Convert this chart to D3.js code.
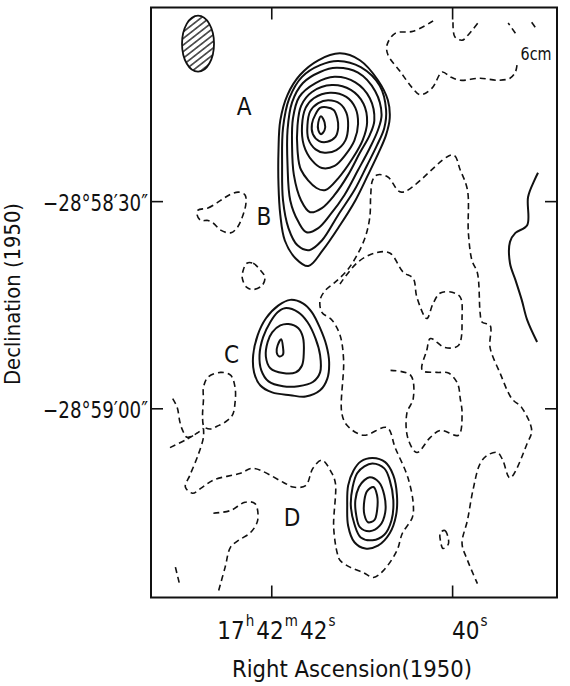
<!DOCTYPE html>
<html>
<head>
<meta charset="utf-8">
<script src="https://cdn.jsdelivr.net/npm/d3@7"></script>
<style>
  body { margin: 0; background: #fff; }
  svg { display: block; font-family: "DejaVu Sans Condensed", "DejaVu Sans", sans-serif; }
</style>
</head>
<body>
<div class="content"></div>
<script>
// Coordinates: RA in seconds of time after 17h42m, Dec in arcsec south of -28°58'00" (1950)

// Axis ticks
var raTicks = [42, 40];
var raTickLabels = [[["17", "h"], ["42", "m"], ["42", "s"]], [["40", "s"]]];
var decTicks = [30, 60];
var decTickLabels = ["−28°58′30″", "−28°59′00″"];

// Source labels [name, ra, dec]
var sourceLabels = [["A", 42.30, 17.5], ["B", 42.08, 33.5], ["C", 42.44, 53.5], ["D", 41.77, 77.0]];

// Beam [ra, dec, half-width (s), half-height (arcsec)]
var beam = [42.81, 7.2, 0.177, 4.06];

// Source A, outer to inner contour
var contoursA = [
  [[41.24,8.6],[41.02,9.6],[40.82,12.5],[40.71,15.4],[40.69,18.0],[40.73,20.4],[40.81,22.9],[40.93,26.2],[41.07,29.9],[41.24,33.5],[41.43,37.1],[41.59,39.4],[41.73,38.3],[41.85,35.7],[41.90,32.0],[41.92,27.7],[41.92,22.6],[41.90,18.3],[41.82,14.6],[41.68,11.7],[41.48,9.6]],
  [[41.26,9.7],[41.01,10.6],[40.80,13.3],[40.73,16.8],[40.75,19.4],[40.83,21.9],[40.94,24.8],[41.08,28.4],[41.26,32.0],[41.44,35.7],[41.58,37.1],[41.71,36.4],[41.81,33.9],[41.87,29.9],[41.88,24.8],[41.87,19.4],[41.80,15.1],[41.66,12.0],[41.46,10.3]],
  [[41.28,10.7],[41.04,11.4],[40.85,14.1],[40.78,17.5],[40.82,19.7],[40.91,22.3],[41.04,25.5],[41.19,29.1],[41.35,32.0],[41.48,33.9],[41.61,34.5],[41.70,33.0],[41.79,29.9],[41.82,24.8],[41.82,19.7],[41.77,15.7],[41.65,12.9],[41.46,11.3]],
  [[41.30,12.0],[41.07,12.8],[40.91,15.1],[40.86,18.3],[40.91,20.4],[41.02,23.0],[41.15,26.2],[41.30,29.1],[41.44,31.0],[41.57,31.6],[41.67,29.9],[41.75,26.2],[41.77,21.9],[41.76,18.0],[41.69,14.9],[41.51,12.9]],
  [[41.33,13.2],[41.12,13.9],[40.98,15.9],[40.94,18.6],[40.99,21.2],[41.10,23.8],[41.26,26.7],[41.40,28.4],[41.50,28.1],[41.67,25.5],[41.71,22.6],[41.71,19.1],[41.67,16.2],[41.55,14.2]],
  [[41.35,14.3],[41.17,14.9],[41.07,16.5],[41.04,18.8],[41.08,21.2],[41.18,23.3],[41.30,24.9],[41.44,25.2],[41.55,24.1],[41.64,21.9],[41.66,19.1],[41.62,16.5],[41.53,15.1]],
  [[41.37,15.4],[41.24,15.9],[41.17,17.2],[41.15,19.1],[41.18,21.2],[41.28,22.6],[41.41,23.0],[41.51,22.5],[41.59,21.0],[41.60,19.0],[41.57,17.0],[41.48,15.8]],
  [[41.39,16.4],[41.31,16.8],[41.27,18.0],[41.26,19.4],[41.29,20.7],[41.38,21.4],[41.47,21.3],[41.54,20.3],[41.55,18.8],[41.51,17.4],[41.46,16.5]],
  [[41.45,17.7],[41.41,18.6],[41.41,19.7],[41.45,20.3],[41.48,19.7],[41.48,18.6]]
];

// Source C
var contoursC = [
  [[41.79,44.3],[41.65,44.8],[41.55,46.1],[41.46,48.4],[41.39,50.9],[41.36,53.3],[41.38,55.7],[41.46,57.4],[41.62,58.3],[41.79,58.1],[41.99,57.7],[42.12,56.7],[42.19,54.8],[42.20,52.3],[42.15,49.4],[42.06,47.0],[41.92,45.1]],
  [[41.85,45.5],[41.70,46.1],[41.60,47.5],[41.51,49.9],[41.46,52.3],[41.46,54.8],[41.54,56.2],[41.70,56.8],[41.87,56.8],[42.03,56.1],[42.11,54.5],[42.13,52.3],[42.09,49.7],[42.01,47.5],[41.93,46.1]],
  [[41.81,47.8],[41.70,48.4],[41.65,49.7],[41.64,51.9],[41.66,53.8],[41.73,54.8],[41.87,54.9],[42.01,54.2],[42.06,52.5],[42.04,50.4],[41.99,49.0],[41.90,48.0]],
  [[41.89,50.0],[41.87,51.2],[41.87,52.2],[41.91,52.5],[41.94,51.9],[41.93,50.9]]
];

// Source D
var contoursD = [
  [[40.88,67.2],[40.74,67.8],[40.65,69.7],[40.61,72.6],[40.62,75.5],[40.69,78.1],[40.82,79.9],[40.96,80.3],[41.08,79.4],[41.15,77.0],[41.16,74.1],[41.15,71.2],[41.09,69.0],[41.01,67.7]],
  [[40.88,68.0],[40.75,68.7],[40.69,70.4],[40.65,73.3],[40.67,76.2],[40.75,78.3],[40.88,79.1],[41.01,78.7],[41.08,76.8],[41.12,74.1],[41.10,71.4],[41.05,69.4],[40.97,68.4]],
  [[40.91,70.0],[40.81,70.7],[40.75,72.6],[40.74,75.1],[40.80,77.0],[40.91,77.8],[41.02,77.2],[41.06,75.5],[41.07,73.3],[41.03,71.4],[40.97,70.4]],
  [[40.87,71.4],[40.83,72.6],[40.83,74.8],[40.86,76.2],[40.93,76.5],[40.97,75.4],[40.97,73.3],[40.94,72.0]]
];

// Solid open contour at the east edge
var eastEdge = [[39.05,25.9],[39.09,27.0],[39.16,29.4],[39.17,33.5],[39.30,34.6],[39.36,35.9],[39.36,39.0],[39.30,41.4],[39.23,44.3],[39.17,47.2],[39.06,50.4]];

// Dashed (lowest level) closed contours
var dashedLoops = [
  [[42.81,31.3],[42.70,31.0],[42.56,29.9],[42.45,29.0],[42.36,28.7],[42.29,29.1],[42.28,30.3],[42.32,32.3],[42.38,33.9],[42.45,34.6],[42.56,34.2],[42.64,33.2],[42.70,32.8],[42.78,32.8],[42.82,32.0]],
  [[42.27,39.0],[42.20,39.0],[42.12,40.0],[42.07,41.0],[42.10,42.2],[42.20,42.8],[42.27,42.5],[42.32,41.2],[42.31,40.0]],
  [[42.75,62.5],[42.76,61.0],[42.75,58.8],[42.75,57.0],[42.70,55.5],[42.56,54.8],[42.45,55.2],[42.40,57.0],[42.40,59.1],[42.43,61.0],[42.51,62.0],[42.60,62.6],[42.67,63.0],[42.73,62.8]],
  [[40.13,78.0],[40.08,77.7],[40.04,79.6],[40.10,80.3],[40.13,79.1]]
];

// Dashed open contours
var dashedLines = [
  [[40.21,3.9],[40.43,5.4],[40.63,5.7],[40.72,7.4],[40.71,8.8],[40.57,11.3],[40.44,13.6],[40.35,14.6],[40.22,13.6],[40.11,11.3],[40.02,12.0],[39.91,12.5],[39.69,12.2],[39.49,12.5],[39.36,12.2],[39.30,11.3],[39.28,10.0]],
  [[39.30,5.7],[39.38,4.2]],
  [[39.99,4.1],[39.97,6.2],[39.89,6.7],[39.82,5.9],[39.71,4.1]],
  [[39.12,4.1],[39.06,5.2]],
  [[42.75,62.9],[42.75,64.2],[42.81,66.8],[42.90,69.7],[42.95,71.4],[42.87,72.3],[42.78,71.6],[42.64,70.4],[42.34,69.4],[42.20,68.7],[41.87,70.7],[41.76,71.4],[41.62,71.2],[41.54,68.7],[41.44,67.5],[41.33,69.4],[41.29,70.9],[41.31,77.2],[41.27,81.0],[41.24,82.0],[41.13,83.0],[40.98,83.8],[40.87,84.5],[40.76,83.5],[40.61,80.6],[40.55,78.1],[40.44,75.8],[40.43,73.8],[40.49,70.0],[40.63,65.7],[40.72,62.8],[40.98,63.9],[41.16,62.5],[41.22,60.7],[41.20,53.0],[41.24,49.4],[41.33,47.2],[41.44,46.1],[41.46,44.3],[41.40,42.9],[41.29,41.7],[41.16,40.0],[41.05,37.8],[40.96,35.2],[40.91,32.3],[40.90,29.1],[40.88,27.0],[40.83,26.2],[40.71,26.5],[40.56,28.7],[39.99,23.3],[39.91,25.5],[39.83,28.4],[39.82,34.6],[39.78,38.6],[39.72,40.4],[39.69,46.2],[39.67,47.5],[39.58,48.0],[39.58,51.2],[39.47,54.9],[39.34,58.6],[39.23,59.9],[39.12,63.2],[39.17,65.1],[39.36,70.1],[39.44,67.5],[39.50,66.4],[39.61,66.8],[39.69,68.0],[39.77,71.9],[39.83,76.2],[39.89,79.6],[39.83,82.0],[39.72,85.4]],
  [[41.24,42.0],[41.04,38.8],[40.85,37.5],[40.69,37.5],[40.54,40.3],[40.43,41.2],[40.39,43.9],[40.28,47.0],[40.21,44.8],[40.13,43.3],[40.00,43.2],[39.91,43.9],[39.89,46.8],[39.93,50.9],[40.08,51.2],[40.24,49.9],[40.28,51.6],[40.33,54.5],[40.17,54.8],[40.04,54.9],[39.94,56.4],[39.91,58.6],[39.89,60.7],[39.93,63.9],[40.13,63.2],[40.24,64.2],[40.39,66.4],[40.49,64.3],[40.50,60.7],[40.43,58.6],[40.46,55.2],[40.69,54.5]],
  [[43.09,58.6],[43.04,59.9],[43.01,62.0],[42.98,63.2],[42.93,64.2],[42.82,63.6],[42.75,62.9]],
  [[43.12,65.7],[42.95,64.6],[42.82,63.6]],
  [[42.64,75.2],[42.45,74.8],[42.29,73.6],[42.18,73.8],[42.15,76.2],[42.23,78.0],[42.36,79.1],[42.45,80.1],[42.51,83.0],[42.59,86.8]],
  [[43.06,83.0],[43.01,85.7]]
];

(function() {

  var margin = {top: 7.5, right: 13, bottom: 88.5, left: 151};
  var width = 570 - margin.left - margin.right;
  var height = 686 - margin.top - margin.bottom;

  var x = d3.scaleLinear().domain([43.33, 38.84]).range([0, width]);
  var y = d3.scaleLinear().domain([1.96, 87.4]).range([0, height]);

  var svg = d3.select(".content").append("svg")
      .attr("width", 570)
      .attr("height", 686);

  var defs = svg.append("defs");
  var hatch = defs.append("pattern")
      .attr("id", "hatch")
      .attr("patternUnits", "userSpaceOnUse")
      .attr("width", 10)
      .attr("height", 5.2)
      .attr("patternTransform", "rotate(-38)");
  hatch.append("line")
      .attr("x1", 0).attr("x2", 10)
      .attr("y1", 2.6).attr("y2", 2.6)
      .attr("stroke", "#111")
      .attr("stroke-width", 1.3);

  var chart = svg.append("g")
      .attr("transform", "translate(" + margin.left + "," + margin.top + ")");

  var closedLine = d3.line()
      .x(function(d) { return x(d[0]); })
      .y(function(d) { return y(d[1]); })
      .curve(d3.curveCatmullRomClosed.alpha(0.5));

  var openLine = d3.line()
      .x(function(d) { return x(d[0]); })
      .y(function(d) { return y(d[1]); })
      .curve(d3.curveCatmullRom.alpha(0.5));

  // Solid contours
  var solid = contoursA.concat(contoursC, contoursD);
  chart.selectAll(".solid")
      .data(solid)
      .enter()
      .append("path")
      .attr("class", "solid")
      .attr("d", closedLine)
      .attr("fill", "none")
      .attr("stroke", "#111")
      .attr("stroke-width", 2);

  chart.append("path")
      .attr("d", openLine(eastEdge))
      .attr("fill", "none")
      .attr("stroke", "#111")
      .attr("stroke-width", 2);

  // Dashed contours
  chart.selectAll(".loop")
      .data(dashedLoops)
      .enter()
      .append("path")
      .attr("class", "loop")
      .attr("d", closedLine)
      .attr("fill", "none")
      .attr("stroke", "#111")
      .attr("stroke-width", 1.6)
      .attr("stroke-dasharray", "6,4");

  chart.selectAll(".dline")
      .data(dashedLines)
      .enter()
      .append("path")
      .attr("class", "dline")
      .attr("d", openLine)
      .attr("fill", "none")
      .attr("stroke", "#111")
      .attr("stroke-width", 1.6)
      .attr("stroke-dasharray", "6,4");

  // Beam
  chart.append("ellipse")
      .attr("cx", x(beam[0]))
      .attr("cy", y(beam[1]))
      .attr("rx", x(beam[0] - beam[2]) - x(beam[0]))
      .attr("ry", y(beam[1] + beam[3]) - y(beam[1]))
      .attr("fill", "url(#hatch)")
      .attr("stroke", "#111")
      .attr("stroke-width", 1.8);

  // Source labels
  chart.selectAll(".src")
      .data(sourceLabels)
      .enter()
      .append("text")
      .attr("class", "src")
      .attr("x", function(d) { return x(d[1]); })
      .attr("y", function(d) { return y(d[2]); })
      .attr("text-anchor", "middle")
      .attr("font-size", 24)
      .attr("fill", "#111")
      .text(function(d) { return d[0]; });

  chart.append("text")
      .attr("x", width - 21)
      .attr("y", 52)
      .attr("text-anchor", "middle")
      .attr("font-size", 18)
      .attr("textLength", 31)
      .attr("lengthAdjust", "spacingAndGlyphs")
      .attr("fill", "#111")
      .text("6cm");

  // Ticks on all four sides, pointing inward
  var tickStyle = function(g) {
    g.select(".domain").remove();
    g.selectAll(".tick line").attr("stroke", "#111").attr("stroke-width", 1.6);
    g.selectAll(".tick text").remove();
  };
  chart.append("g").call(d3.axisTop(x).tickValues(raTicks).tickSize(-12)).call(tickStyle);
  chart.append("g").attr("transform", "translate(0," + height + ")")
      .call(d3.axisBottom(x).tickValues(raTicks).tickSize(-12)).call(tickStyle);
  chart.append("g").call(d3.axisLeft(y).tickValues(decTicks).tickSize(-12)).call(tickStyle);
  chart.append("g").attr("transform", "translate(" + width + ",0)")
      .call(d3.axisRight(y).tickValues(decTicks).tickSize(-12)).call(tickStyle);

  // Frame
  chart.append("rect")
      .attr("width", width)
      .attr("height", height)
      .attr("fill", "none")
      .attr("stroke", "#111")
      .attr("stroke-width", 2);

  // RA tick labels with superscript units
  var raOffsets = [-54, 0];
  raTickLabels.forEach(function(parts, i) {
    var t = chart.append("text")
        .attr("x", x(raTicks[i]) + raOffsets[i])
        .attr("y", height + 41)
        .attr("fill", "#111");
    parts.forEach(function(p, j) {
      t.append("tspan").attr("font-size", 24).attr("dx", j === 0 ? 0 : 2)
          .attr("dy", j === 0 ? 0 : 13).text(p[0]);
      t.append("tspan").attr("font-size", 15).attr("dx", 1).attr("dy", -13).text(p[1]);
    });
  });

  // Dec tick labels
  chart.selectAll(".declab")
      .data(decTicks)
      .enter()
      .append("text")
      .attr("class", "declab")
      .attr("x", -3)
      .attr("y", function(d) { return y(d) + 10; })
      .attr("text-anchor", "end")
      .attr("font-size", 23)
      .attr("textLength", 105)
      .attr("lengthAdjust", "spacingAndGlyphs")
      .attr("fill", "#111")
      .text(function(d, i) { return decTickLabels[i]; });

  // Axis titles
  svg.append("text")
      .attr("x", 352)
      .attr("y", 677)
      .attr("text-anchor", "middle")
      .attr("font-size", 23)
      .attr("textLength", 240)
      .attr("lengthAdjust", "spacingAndGlyphs")
      .attr("fill", "#111")
      .text("Right Ascension(1950)");

  svg.append("text")
      .attr("transform", "translate(20,294) rotate(-90)")
      .attr("text-anchor", "middle")
      .attr("font-size", 22)
      .attr("textLength", 182)
      .attr("lengthAdjust", "spacingAndGlyphs")
      .attr("fill", "#111")
      .text("Declination (1950)");

})();
</script>
</body>
</html>
